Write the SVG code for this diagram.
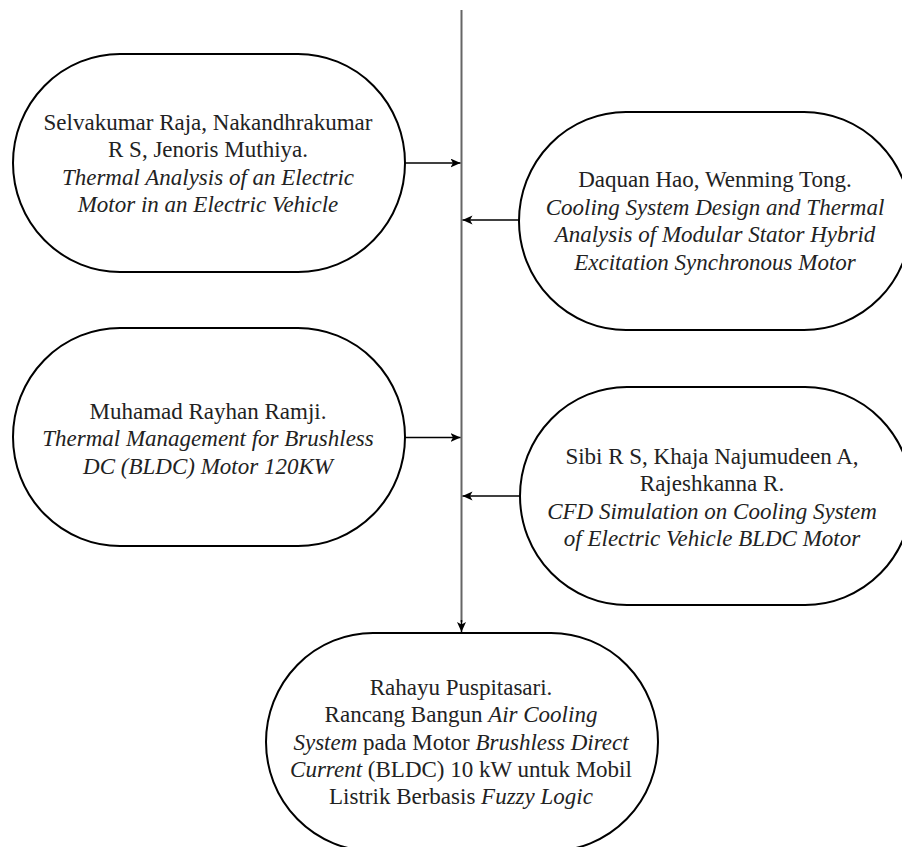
<svg xmlns="http://www.w3.org/2000/svg" width="902" height="847" viewBox="0 0 902 847">
<style>
.node{fill:#fff;stroke:#000;stroke-width:2}
.t{font-family:"Liberation Serif","Times New Roman",serif;font-size:23px;fill:#222;text-anchor:middle}
.i{font-style:italic}
.c{stroke:#000;stroke-width:1.5;fill:none}
.spine{stroke:#666;stroke-width:2;fill:none}
</style>
<defs>
<marker id="arr" markerWidth="12" markerHeight="10" refX="10" refY="4.5" orient="auto" markerUnits="userSpaceOnUse">
<path d="M0,0 L10,4.5 L0,9 L2.5,4.5 Z" fill="#000"/>
</marker>
</defs>
<g id="connectors">
<path class="spine" d="M461.5,10 V622"/>
<path class="c" d="M461.5,620 V632" marker-end="url(#arr)"/>
<path class="c" d="M405,163 H460.5" marker-end="url(#arr)"/>
<path class="c" d="M519,220 H462.5" marker-end="url(#arr)"/>
<path class="c" d="M405,437.5 H460.5" marker-end="url(#arr)"/>
<path class="c" d="M520,496 H462.5" marker-end="url(#arr)"/>
</g>
<g id="node1">
<rect class="node" x="13" y="54" width="392" height="218" rx="107" ry="109"/>
<text class="t" x="208" y="129.5">Selvakumar Raja, Nakandhrakumar</text>
<text class="t" x="208" y="157">R S, Jenoris Muthiya.</text>
<text class="t i" x="208" y="184.5">Thermal Analysis of an Electric</text>
<text class="t i" x="208" y="212">Motor in an Electric Vehicle</text>
</g>
<g id="node2">
<rect class="node" x="519" y="112" width="392" height="218" rx="107" ry="109"/>
<text class="t" x="715" y="187">Daquan Hao, Wenming Tong.</text>
<text class="t i" x="715" y="214.5">Cooling System Design and Thermal</text>
<text class="t i" x="715" y="242">Analysis of Modular Stator Hybrid</text>
<text class="t i" x="715" y="269.5">Excitation Synchronous Motor</text>
</g>
<g id="node3">
<rect class="node" x="13" y="328" width="392" height="218" rx="107" ry="109"/>
<text class="t" x="208" y="418.5">Muhamad Rayhan Ramji.</text>
<text class="t i" x="208" y="446">Thermal Management for Brushless</text>
<text class="t i" x="208" y="473.5">DC (BLDC) Motor 120KW</text>
</g>
<g id="node4">
<rect class="node" x="520" y="387" width="392" height="218" rx="107" ry="109"/>
<text class="t" x="712" y="463.5">Sibi R S, Khaja Najumudeen A,</text>
<text class="t" x="712" y="491">Rajeshkanna R.</text>
<text class="t i" x="712" y="518.5">CFD Simulation on Cooling System</text>
<text class="t i" x="712" y="546">of Electric Vehicle BLDC Motor</text>
</g>
<g id="node5">
<rect class="node" x="266" y="633" width="392" height="218" rx="107" ry="109"/>
<text class="t" x="461" y="694.5">Rahayu Puspitasari.</text>
<text class="t" x="461" y="722">Rancang Bangun <tspan class="i">Air Cooling</tspan></text>
<text class="t" x="461" y="749.5"><tspan class="i">System</tspan> pada Motor <tspan class="i">Brushless Direct</tspan></text>
<text class="t" x="461" y="777"><tspan class="i">Current</tspan> (BLDC) 10 kW untuk Mobil</text>
<text class="t" x="461" y="804">Listrik Berbasis <tspan class="i">Fuzzy Logic</tspan></text>
</g>
</svg>
